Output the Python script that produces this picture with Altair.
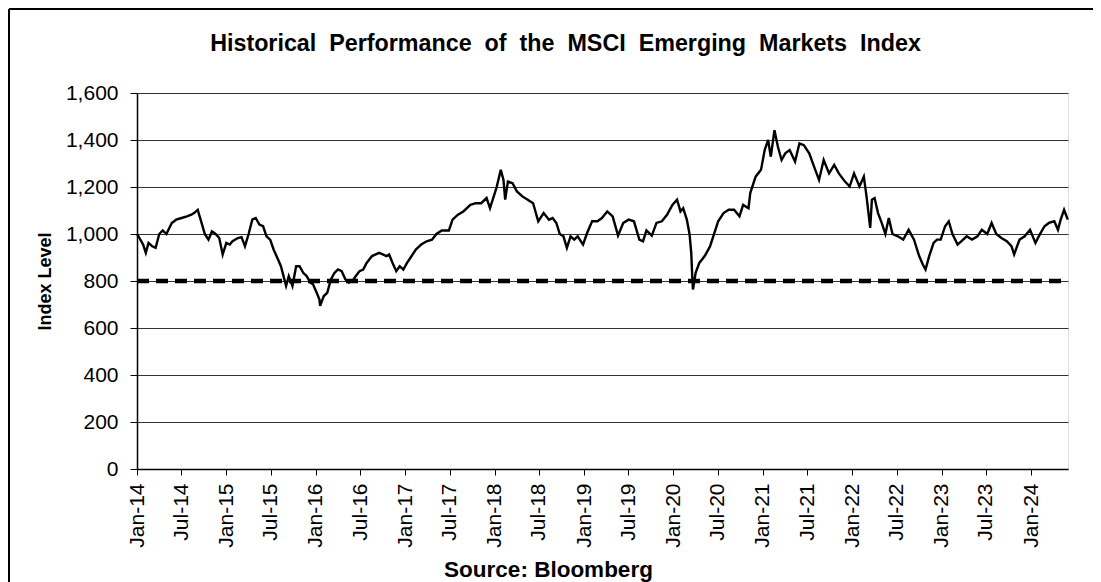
import altair as alt
import pandas as pd

# Decimal-year positions and index levels
years = [
    2014.00, 2014.03, 2014.07, 2014.10, 2014.13, 2014.17, 2014.21, 2014.25, 2014.29, 2014.33,
    2014.39, 2014.44, 2014.50, 2014.56, 2014.61, 2014.64, 2014.68, 2014.72, 2014.76, 2014.80,
    2014.84, 2014.88, 2014.92, 2014.96, 2015.00, 2015.04, 2015.07, 2015.13, 2015.17, 2015.21,
    2015.25, 2015.29, 2015.33, 2015.37, 2015.41, 2015.45, 2015.49, 2015.53, 2015.57, 2015.61,
    2015.65, 2015.67, 2015.70, 2015.74, 2015.78, 2015.82, 2015.86, 2015.90, 2015.94, 2015.97,
    2016.01, 2016.04, 2016.05, 2016.09, 2016.13, 2016.17, 2016.21, 2016.25, 2016.29, 2016.33,
    2016.37, 2016.41, 2016.45, 2016.49, 2016.53, 2016.57, 2016.63, 2016.67, 2016.71, 2016.75,
    2016.79, 2016.82, 2016.86, 2016.90, 2016.94, 2016.98, 2017.02, 2017.06, 2017.12, 2017.18,
    2017.24, 2017.30, 2017.35, 2017.41, 2017.49, 2017.53, 2017.59, 2017.65, 2017.73, 2017.79,
    2017.85, 2017.91, 2017.95, 2017.98, 2018.02, 2018.07, 2018.10, 2018.12, 2018.15, 2018.20,
    2018.25, 2018.31, 2018.37, 2018.43, 2018.49, 2018.55, 2018.61, 2018.65, 2018.69, 2018.73,
    2018.77, 2018.81, 2018.85, 2018.89, 2018.93, 2018.99, 2019.03, 2019.09, 2019.15, 2019.20,
    2019.26, 2019.32, 2019.38, 2019.44, 2019.50, 2019.56, 2019.62, 2019.66, 2019.70, 2019.76,
    2019.81, 2019.87, 2019.93, 2019.99, 2020.04, 2020.08, 2020.11, 2020.15, 2020.18, 2020.20,
    2020.21, 2020.22, 2020.25, 2020.29, 2020.35, 2020.41, 2020.45, 2020.50, 2020.56, 2020.62,
    2020.68, 2020.74, 2020.78, 2020.84, 2020.86, 2020.92, 2020.98, 2021.02, 2021.06, 2021.09,
    2021.13, 2021.17, 2021.21, 2021.25, 2021.30, 2021.36, 2021.41, 2021.46, 2021.52, 2021.58,
    2021.63, 2021.68, 2021.74, 2021.80, 2021.85, 2021.92, 2021.97, 2022.02, 2022.08, 2022.13,
    2022.16, 2022.20, 2022.22, 2022.25, 2022.29, 2022.33, 2022.37, 2022.41, 2022.45, 2022.51,
    2022.57, 2022.63, 2022.69, 2022.75, 2022.79, 2022.82, 2022.86, 2022.91, 2022.95, 2022.99,
    2023.04, 2023.08, 2023.12, 2023.18, 2023.22, 2023.28, 2023.34, 2023.40, 2023.45, 2023.51,
    2023.56, 2023.61, 2023.67, 2023.73, 2023.78, 2023.81, 2023.87, 2023.93, 2023.99, 2024.05,
    2024.09, 2024.15, 2024.20, 2024.26, 2024.30, 2024.33, 2024.37, 2024.41,
]
levels = [
    1000, 983, 955, 920, 962, 948, 941, 1000, 1015, 1000,
    1047, 1061, 1068, 1075, 1082, 1089, 1103, 1054, 1000, 976,
    1011, 1000, 983, 913, 962, 955, 969, 983, 987, 948,
    1000, 1061, 1068, 1040, 1033, 990, 976, 934, 899, 863,
    807, 779, 821, 779, 863, 863, 835, 821, 793, 786,
    750, 722, 694, 736, 750, 807, 835, 849, 842, 807,
    793, 800, 821, 842, 849, 877, 906, 913, 920, 913,
    906, 913, 877, 842, 863, 849, 877, 899, 934, 955,
    969, 976, 1000, 1015, 1015, 1061, 1082, 1096, 1124, 1131,
    1131, 1153, 1110, 1146, 1195, 1273, 1230, 1146, 1223, 1216,
    1181, 1160, 1146, 1131, 1054, 1089, 1061, 1068, 1047, 1000,
    990, 941, 990, 976, 990, 955, 1000, 1054, 1054, 1068,
    1096, 1075, 993, 1047, 1061, 1054, 976, 969, 1015, 993,
    1047, 1054, 1082, 1124, 1146, 1096, 1110, 1061, 1000, 920,
    821, 764, 835, 877, 906, 948, 993, 1054, 1089, 1103,
    1103, 1075, 1124, 1110, 1174, 1244, 1273, 1357, 1400, 1329,
    1442, 1371, 1315, 1343, 1357, 1308, 1386, 1378, 1343, 1280,
    1230, 1315, 1258, 1294, 1258, 1223, 1202, 1258, 1202, 1244,
    1160, 1026, 1146, 1153, 1089, 1047, 1000, 1068, 1000, 990,
    976, 1018, 976, 906, 870, 849, 906, 962, 976, 976,
    1033, 1054, 1000, 955, 969, 990, 976, 990, 1018, 1000,
    1047, 1000, 983, 969, 948, 913, 976, 990, 1018, 962,
    993, 1033, 1047, 1054, 1018, 1061, 1103, 1061,
]
reference_level = [800]
y_ticks = [0, 200, 400, 600, 800, 1000, 1200, 1400, 1600]
tick_months = [(y, m) for y in range(2014, 2025) for m in (1, 7) if (y, m) <= (2024, 1)]
title_words = ["Historical", "Performance", "of", "the", "MSCI", "Emerging", "Markets", "Index"]

start = pd.Timestamp("2014-01-01")
dates = [(start + pd.Timedelta(days=(y - 2014) * 365.25)).strftime("%Y-%m-%dT00:00:00") for y in years]
df = pd.DataFrame({"date": dates, "value": levels})
ref_df = pd.DataFrame({"value": reference_level})
frame_df = pd.DataFrame({"k": [0]})

W, H = 931, 376
PAD = {"left": 129, "top": 85, "right": 25, "bottom": 113}
FONT = "Liberation Sans"

x_enc = alt.X(
    "date:T",
    scale=alt.Scale(domain=[alt.DateTime(year=2014, month=1, date=1),
                            alt.DateTime(year=2024, month=5, date=31)]),
    axis=alt.Axis(
        values=[alt.DateTime(year=y, month=m, date=1) for y, m in tick_months],
        format="%b-%y", labelAngle=270, labelAlign="right", labelBaseline="middle",
        labelFontSize=21, labelColor="black", labelPadding=8, labelFont=FONT,
        tickSize=6, tickColor="black", domainColor="black", domainWidth=1.5,
        grid=False, title="Source: Bloomberg", titleFont=FONT, titleFontSize=22.5,
        titleFontWeight="bold", titleColor="black", titleX=411, titleY=107,
        titleAlign="center", titleBaseline="alphabetic", labelOverlap=False,
    ),
)
y_enc = alt.Y(
    "value:Q",
    scale=alt.Scale(domain=[0, 1600], nice=False),
    axis=alt.Axis(
        values=y_ticks, format=",d", labelFontSize=21, labelColor="black", labelFont=FONT,
        labelPadding=12, tickSize=7, tickColor="black", domainColor="black", domainWidth=1.5,
        grid=True, gridColor="#333333", gridWidth=1.2,
        title="Index Level", titleFont=FONT, titleFontSize=18, titleFontWeight="bold",
        titleColor="black", titleX=-92, titleY=H / 2, titleAlign="center",
        titleBaseline="middle", titleAngle=270,
    ),
)

line = alt.Chart(df).mark_line(color="black", strokeWidth=2.4).encode(x=x_enc, y=y_enc)
ref = alt.Chart(ref_df).mark_rule(color="black", strokeWidth=4.5, strokeDash=[12, 7]).encode(
    y=alt.Y("value:Q"), x=alt.value(0), x2=alt.value(W)
)
frame_left = alt.Chart(frame_df).mark_rule(color="black", strokeWidth=2).encode(
    x=alt.value(-128), y=alt.value(-84), y2=alt.value(H + 130)
)
frame_top = alt.Chart(frame_df).mark_rule(color="black", strokeWidth=2).encode(
    x=alt.value(-128), x2=alt.value(W + 25), y=alt.value(-84)
)

chart = alt.layer(ref, line, frame_left, frame_top).properties(
    width=W, height=H, padding=PAD, autosize=alt.AutoSizeParams(type="none"),
    title=alt.TitleParams(
        text=" \u00a0".join(title_words),
        font=FONT, fontSize=23.3, fontWeight="bold", color="black", anchor="middle",
        dx=-37, offset=-66, baseline="alphabetic",
    ),
).configure_view(stroke=None).configure(background="white")

chart.save("out.html", embed_options={"renderer": "svg", "actions": False})
